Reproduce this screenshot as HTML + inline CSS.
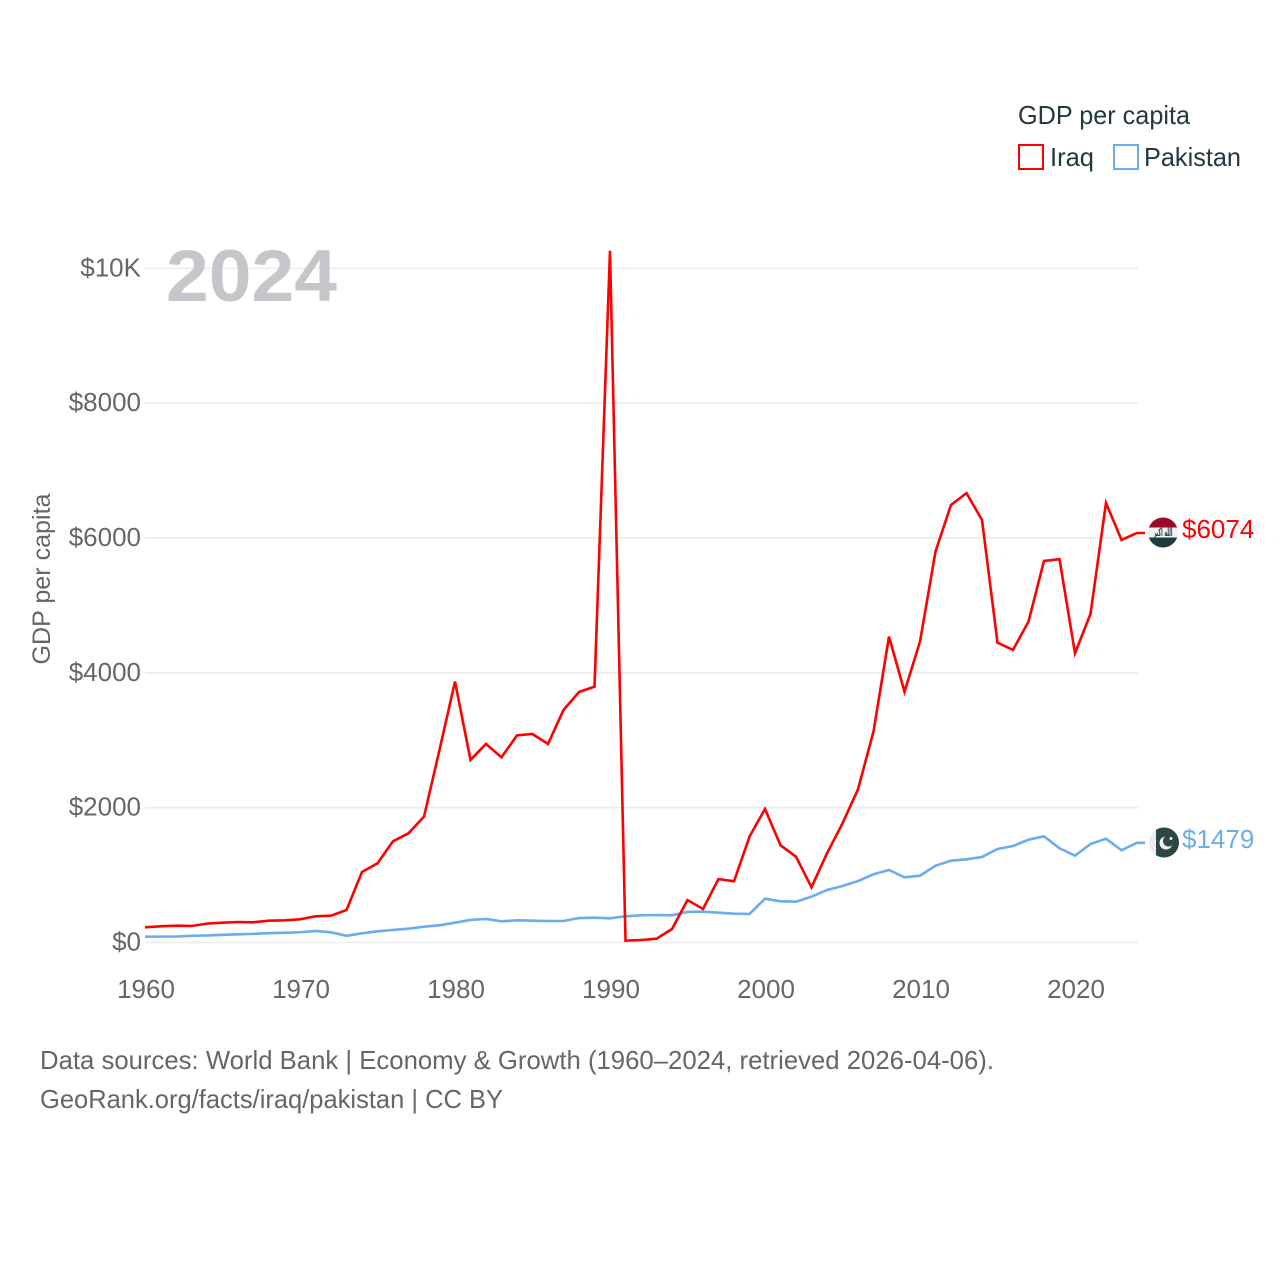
<!DOCTYPE html>
<html lang="en">
<head>
<meta charset="utf-8">
<title>GDP per capita: Iraq and Pakistan</title>
<style>
html,body{margin:0;padding:0;background:#fff;}
svg{display:block;font-family:"Liberation Sans",sans-serif;}
</style>
</head>
<body>
<svg id="chart" width="1280" height="1280" viewBox="0 0 1280 1280" xmlns="http://www.w3.org/2000/svg">
  <defs>
    <clipPath id="iraq-clip"><circle cx="1163" cy="532.5" r="15"></circle></clipPath>
    <clipPath id="pak-clip"><circle cx="1164" cy="842.5" r="15"></circle></clipPath>
    <pattern id="pak-stipple" width="2" height="2" patternUnits="userSpaceOnUse">
      <rect width="2" height="2" fill="#24403f"></rect>
      <rect width="1" height="1" fill="#3d5756"></rect>
    </pattern>
  </defs>
  <rect width="1280" height="1280" fill="#fff"></rect>

  <g id="grid"></g>
  <g id="y-ticks"></g>
  <g id="x-ticks"></g>

  <text x="166" y="301" font-size="73" font-weight="700" fill="#c4c6c9" textLength="171" lengthAdjust="spacingAndGlyphs">2024</text>
  <text transform="translate(50,579) rotate(-90)" text-anchor="middle" font-size="25" fill="#666" textLength="171" lengthAdjust="spacingAndGlyphs">GDP per capita</text>

  <g id="lines"></g>

  <g clip-path="url(#iraq-clip)">
    <rect x="1148" y="517" width="30" height="10.5" fill="#9a0b2c"></rect>
    <rect x="1148" y="527.5" width="30" height="10" fill="#f1f1f1"></rect>
    <rect x="1148" y="537.5" width="30" height="10.5" fill="#1f3b3d"></rect>
    <text x="1163" y="536" text-anchor="middle" font-size="11" font-weight="700" fill="#24403f" textLength="19" lengthAdjust="spacingAndGlyphs" style="font-family:'DejaVu Sans',sans-serif">الله أكبر</text>
  </g>
  <g clip-path="url(#pak-clip)">
    <rect x="1149" y="827" width="30" height="31" fill="#ececec"></rect>
    <rect x="1156" y="827" width="23" height="31" fill="url(#pak-stipple)"></rect>
    <circle cx="1166" cy="843" r="6.5" fill="#f1f1f1"></circle>
    <circle cx="1168.5" cy="841" r="5.5" fill="#2c4746"></circle>
    <circle cx="1171" cy="838.5" r="1.5" fill="#f1f1f1"></circle>
  </g>

  <g id="end-labels"></g>

  <g>
    <text x="1018" y="124" font-size="26" fill="#24393f" textLength="172" lengthAdjust="spacingAndGlyphs">GDP per capita</text>
    <rect x="1019" y="145" width="24" height="24" fill="#fff" stroke="#ff0000" stroke-width="2"></rect>
    <text x="1050" y="166" font-size="26" fill="#24393f" textLength="44" lengthAdjust="spacingAndGlyphs">Iraq</text>
    <rect x="1114" y="145" width="24" height="24" fill="#fff" stroke="#6aaced" stroke-width="2"></rect>
    <text x="1144" y="166" font-size="26" fill="#24393f" textLength="97" lengthAdjust="spacingAndGlyphs">Pakistan</text>
  </g>

  <g font-size="26" fill="#666">
    <text x="40" y="1069" textLength="954" lengthAdjust="spacingAndGlyphs">Data sources: World Bank | Economy &amp; Growth (1960–2024, retrieved 2026-04-06).</text>
    <text x="40" y="1108" textLength="463" lengthAdjust="spacingAndGlyphs">GeoRank.org/facts/iraq/pakistan | CC BY</text>
  </g>
</svg>

<script>
var startYear = 1960;
var xTickYears = [1960, 1970, 1980, 1990, 2000, 2010, 2020];
var yTickValues = [0, 2000, 4000, 6000, 8000, 10000];
var yTickLabels = ["$0", "$2000", "$4000", "$6000", "$8000", "$10K"];

var iraqValues = [225, 240, 250, 245, 280, 294, 304, 300, 324, 329,
  344, 389, 398, 482, 1046, 1175, 1501, 1620, 1867, 2856,
  3870, 2708, 2945, 2747, 3073, 3093, 2945, 3449, 3716, 3795,
  10260, 27, 37, 56, 200, 630, 497, 942, 908, 1570,
  1981, 1442, 1273, 819, 1323, 1768, 2273, 3128, 4537, 3721,
  4463, 5798, 6491, 6665, 6268, 4448, 4340, 4760, 5660, 5685,
  4290, 4874, 6520, 5972, 6074];
var pakistanValues = [86, 87, 87, 100, 105, 114, 122, 128, 138, 143,
  152, 172, 151, 100, 136, 166, 186, 205, 235, 255,
  294, 334, 349, 314, 329, 324, 319, 319, 363, 368,
  359, 389, 403, 408, 403, 453, 457, 442, 427, 423,
  650, 611, 605, 680, 779, 838, 912, 1012, 1076, 967,
  991, 1140, 1214, 1234, 1268, 1387, 1431, 1525, 1575, 1397,
  1288, 1461, 1540, 1368, 1479];
var iraqLabel = "$6074";
var pakistanLabel = "$1479";

var SVGNS = "http://www.w3.org/2000/svg";
function xScale(year) { return 145 + (year - 1960) * 15.5; }
function yScale(value) { return 942.5 - value * 0.06742; }

var gridGroup = document.getElementById("grid");
var yTickGroup = document.getElementById("y-ticks");
var xTickGroup = document.getElementById("x-ticks");
var lineGroup = document.getElementById("lines");
var endGroup = document.getElementById("end-labels");

yTickValues.forEach(function (value, i) {
  var y = yScale(value);
  var line = document.createElementNS(SVGNS, "line");
  
  
  line.setAttribute("x1", 145);
  line.setAttribute("x2", 1138);
  line.setAttribute("y1", y);
  line.setAttribute("y2", y);
  line.setAttribute("stroke", "#ececee");
  line.setAttribute("stroke-width", "1.6");
  gridGroup.appendChild(line);

  var label = document.createElementNS(SVGNS, "text");
  
  
  label.setAttribute("x", 141);
  label.setAttribute("y", y + 8);
  label.setAttribute("text-anchor", "end");
  label.setAttribute("font-size", "26");
  label.setAttribute("fill", "#666");
  label.textContent = yTickLabels[i];
  yTickGroup.appendChild(label);
});

xTickYears.forEach(function (year) {
  var label = document.createElementNS(SVGNS, "text");
  
  
  label.setAttribute("x", xScale(year) + 1);
  label.setAttribute("y", 998);
  label.setAttribute("text-anchor", "middle");
  label.setAttribute("font-size", "26");
  label.setAttribute("fill", "#666");
  label.textContent = year;
  xTickGroup.appendChild(label);
});

function drawSeries(values, color, name) {
  var points = values.map(function (value, i) {
    return xScale(startYear + i).toFixed(2) + "," + yScale(value).toFixed(2);
  });
  var last = values[values.length - 1];
  points.push((xScale(startYear + values.length - 1) + 8).toFixed(2) + "," + yScale(last).toFixed(2));
  var line = document.createElementNS(SVGNS, "polyline");
  
  
  line.setAttribute("points", points.join(" "));
  line.setAttribute("fill", "none");
  line.setAttribute("stroke", color);
  line.setAttribute("stroke-width", "2.6");
  line.setAttribute("stroke-linejoin", "miter");
  lineGroup.appendChild(line);
}
drawSeries(pakistanValues, "#6aaced", "pakistan-line");
drawSeries(iraqValues, "#ff0000", "iraq-line");

function drawEndLabel(values, text, color, name) {
  var label = document.createElementNS(SVGNS, "text");
  
  
  label.setAttribute("x", 1182);
  label.setAttribute("y", yScale(values[values.length - 1]) + 5);
  label.setAttribute("font-size", "26");
  label.setAttribute("fill", color);
  label.textContent = text;
  endGroup.appendChild(label);
}
drawEndLabel(iraqValues, iraqLabel, "#ff0000", "iraq-end-label");
drawEndLabel(pakistanValues, pakistanLabel, "#6aaced", "pakistan-end-label");
</script>
</body>
</html>
